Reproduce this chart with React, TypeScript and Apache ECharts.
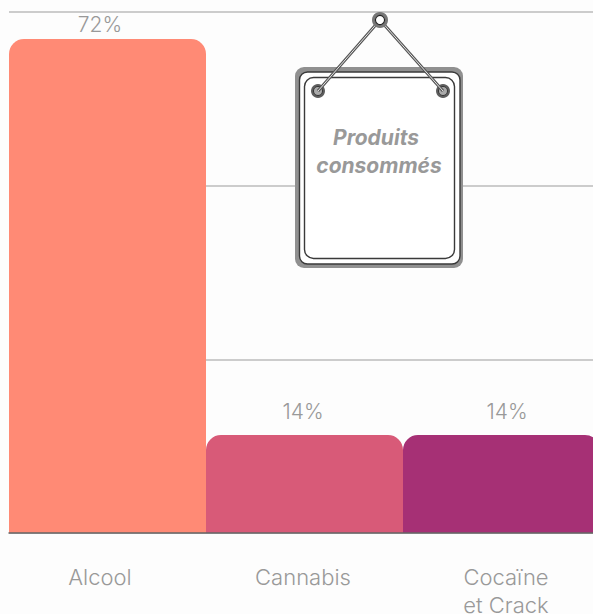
import React, { useEffect, useRef } from "react";
import * as echarts from "echarts";

const categories = ["Alcool", "Cannabis", "Cocaïne\net Crack"];
const values = [71.1, 14.1, 14.1];
const valueLabels = ["72%", "14%", "14%"];
const barColors = ["#FF8A75", "#D85A78", "#A63075"];
const labelShifts = [[-7.5, 1], [-1.5, -8], [5.5, -8]];

const FONT = "Inter";
const TEXT = "#999999";

function App() {
  const ref = useRef<HTMLDivElement>(null);
  useEffect(() => {
    document.body.style.margin = "0";
    const chart = echarts.init(ref.current!, null, { renderer: "svg" });
    const wire = (x1: number, y1: number, x2: number, y2: number) => [
      { type: "line", z: 100, shape: { x1, y1, x2, y2 }, style: { stroke: "#555", lineWidth: 3 } },
      { type: "line", z: 100, shape: { x1, y1, x2, y2 }, style: { stroke: "#e6e6e6", lineWidth: 1 } },
    ];
    const nail = (cx: number, cy: number) => [
      { type: "circle", z: 100, shape: { cx, cy, r: 7 }, style: { fill: "#5e5e5e" } },
      { type: "circle", z: 100, shape: { cx, cy, r: 4.5 }, style: { fill: "#aaa", stroke: "#333", lineWidth: 1 } },
    ];
    chart.setOption({
      animation: false,
      backgroundColor: "#fdfdfd",
      grid: [
        { left: 9, top: 12, width: 591, height: 521, outerBoundsMode: "none" },
        { left: -1.5, top: 12, width: 609, height: 521, outerBoundsMode: "none" },
      ],
      xAxis: [
        {
          type: "category",
          gridIndex: 0,
          data: categories,
          z: 5,
          axisLine: { show: true, lineStyle: { color: "#666", width: 1.5 } },
          axisTick: { show: false },
          axisLabel: { show: false },
        },
        {
          type: "category",
          gridIndex: 1,
          data: categories,
          axisLine: { show: false },
          axisTick: { show: false },
          axisLabel: {
            color: TEXT,
            fontFamily: FONT,
            fontWeight: 300,
            fontSize: 22,
            lineHeight: 28,
            margin: 30,
            interval: 0,
          },
        },
      ],
      yAxis: [
        {
          type: "value",
          gridIndex: 0,
          min: 0,
          max: 75,
          interval: 25,
          axisLine: { show: false },
          axisTick: { show: false },
          axisLabel: { show: false },
          splitLine: { lineStyle: { color: "#bbbbbb", width: 1.5 } },
        },
        { type: "value", gridIndex: 1, min: 0, max: 75, show: false, splitLine: { show: false } },
      ],
      series: [
        {
          type: "bar",
          xAxisIndex: 0,
          yAxisIndex: 0,
          barWidth: "100%",
          data: values.map((value, i) => ({
            value,
            itemStyle: { color: barColors[i], borderRadius: [15, 15, 0, 0] },
            label: {
              show: true,
              position: "top",
              offset: labelShifts[i],
              formatter: valueLabels[i],
              color: TEXT,
              fontFamily: FONT,
              fontWeight: 300,
              fontSize: 21,
            },
          })),
        },
      ],
      graphic: [
        { type: "rect", z: 100, shape: { x: 295, y: 67, width: 168, height: 201, r: 9 }, style: { fill: "#909090" } },
        { type: "rect", z: 100, shape: { x: 299.5, y: 72, width: 160.5, height: 192, r: 8 }, style: { fill: "#fff", stroke: "#3a3a3a", lineWidth: 1.4 } },
        { type: "rect", z: 100, shape: { x: 304.5, y: 77.5, width: 150, height: 181, r: 9 }, style: { fill: "#fff", stroke: "#3a3a3a", lineWidth: 1.4 } },
        ...nail(318, 91),
        ...nail(443, 91),
        ...wire(380, 20, 318, 91),
        ...wire(380, 20, 443, 91),
        { type: "circle", z: 100, shape: { cx: 380, cy: 20, r: 6.5 }, style: { fill: "#fff", stroke: "#777", lineWidth: 3 } },
        { type: "circle", z: 100, shape: { cx: 380, cy: 20, r: 4.6 }, style: { fill: "#fff", stroke: "#222", lineWidth: 1.2 } },
        {
          type: "text",
          z: 101,
          x: 376,
          y: 137,
          style: { text: "Produits", fill: "#999", font: `italic 700 21px ${FONT}`, align: "center", verticalAlign: "middle" },
        },
        {
          type: "text",
          z: 101,
          x: 379,
          y: 165,
          style: { text: "consommés", fill: "#999", font: `italic 700 21px ${FONT}`, align: "center", verticalAlign: "middle" },
        },
      ],
    });
    return () => chart.dispose();
  }, []);
  return (
    <div style={{ width: 593, height: 614, overflow: "hidden" }}>
      <div ref={ref} style={{ width: 640, height: 614 }} />
    </div>
  );
}

export default App;
